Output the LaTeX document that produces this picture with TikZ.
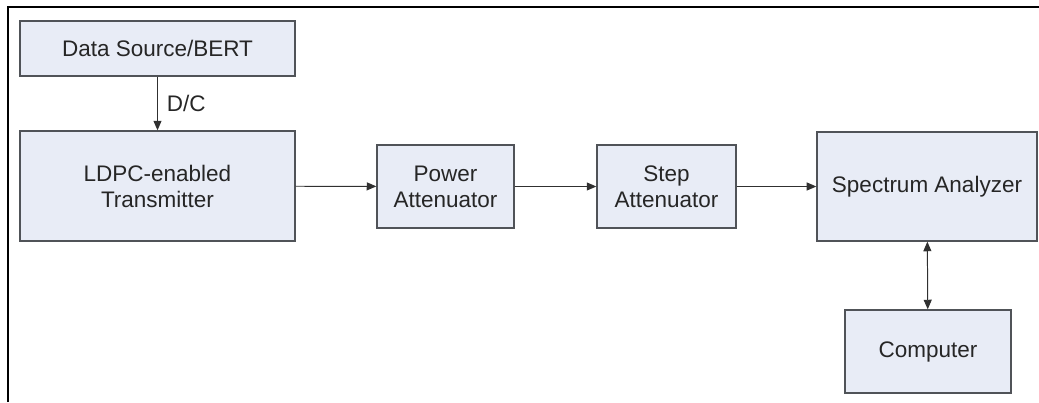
\documentclass[tikz,border=0pt]{standalone}
\usepackage{fontspec}
\setmainfont{Liberation Sans}
\usepackage{tikz}
\usetikzlibrary{arrows.meta}
\definecolor{blkline}{HTML}{505358}
\definecolor{blkfill}{HTML}{E8ECF6}
\definecolor{wirecol}{HTML}{303030}

\begin{document}
\begin{tikzpicture}[x=0.025cm,y=-0.025cm,
    blk/.style={draw=blkline,line width=0.9pt,fill=blkfill,align=center,inner sep=2pt,
      font=\fontsize{16}{18.5}\selectfont,text=black!85},
    link/.style={draw=wirecol,line width=0.7pt,-{Triangle[length=2.4mm,width=2mm]}}]
    \useasboundingbox (0,0) rectangle (1039,402);
    % outer frame
    \draw[line width=0.8pt] (8,402) -- (8,7) -- (1039,7);
    \node[blk,minimum width=6.875cm,minimum height=1.375cm] (src) at (157.5,48.5) {Data Source/BERT};
    \node[blk,minimum width=6.875cm,minimum height=2.75cm] (ldpc) at (157.5,186) {LDPC-enabled\\Transmitter};
    \node[blk,minimum width=3.425cm,minimum height=2.075cm] (pwr) at (445.5,186.5) {Power\\Attenuator};
    \node[blk,minimum width=3.475cm,minimum height=2.075cm] (stp) at (666.5,186.5) {Step\\Attenuator};
    \node[blk,minimum width=5.5cm,minimum height=2.725cm] (spec) at (927,186.5) {Spectrum Analyzer};
    \node[blk,minimum width=4.15cm,minimum height=2.075cm] (comp) at (928,351.5) {Computer};
    \draw[link] (src) -- node[right,font=\fontsize{16}{18}\selectfont,text=black!85,xshift=3pt] {D/C} (ldpc);
    \draw[link] (ldpc) -- (pwr);
    \draw[link] (pwr) -- (stp);
    \draw[link] (stp) -- (spec);
    \draw[link,{Triangle[length=2.4mm,width=2mm]}-{Triangle[length=2.4mm,width=2mm]}] (comp) -- (spec);
  \end{tikzpicture}
\end{document}
